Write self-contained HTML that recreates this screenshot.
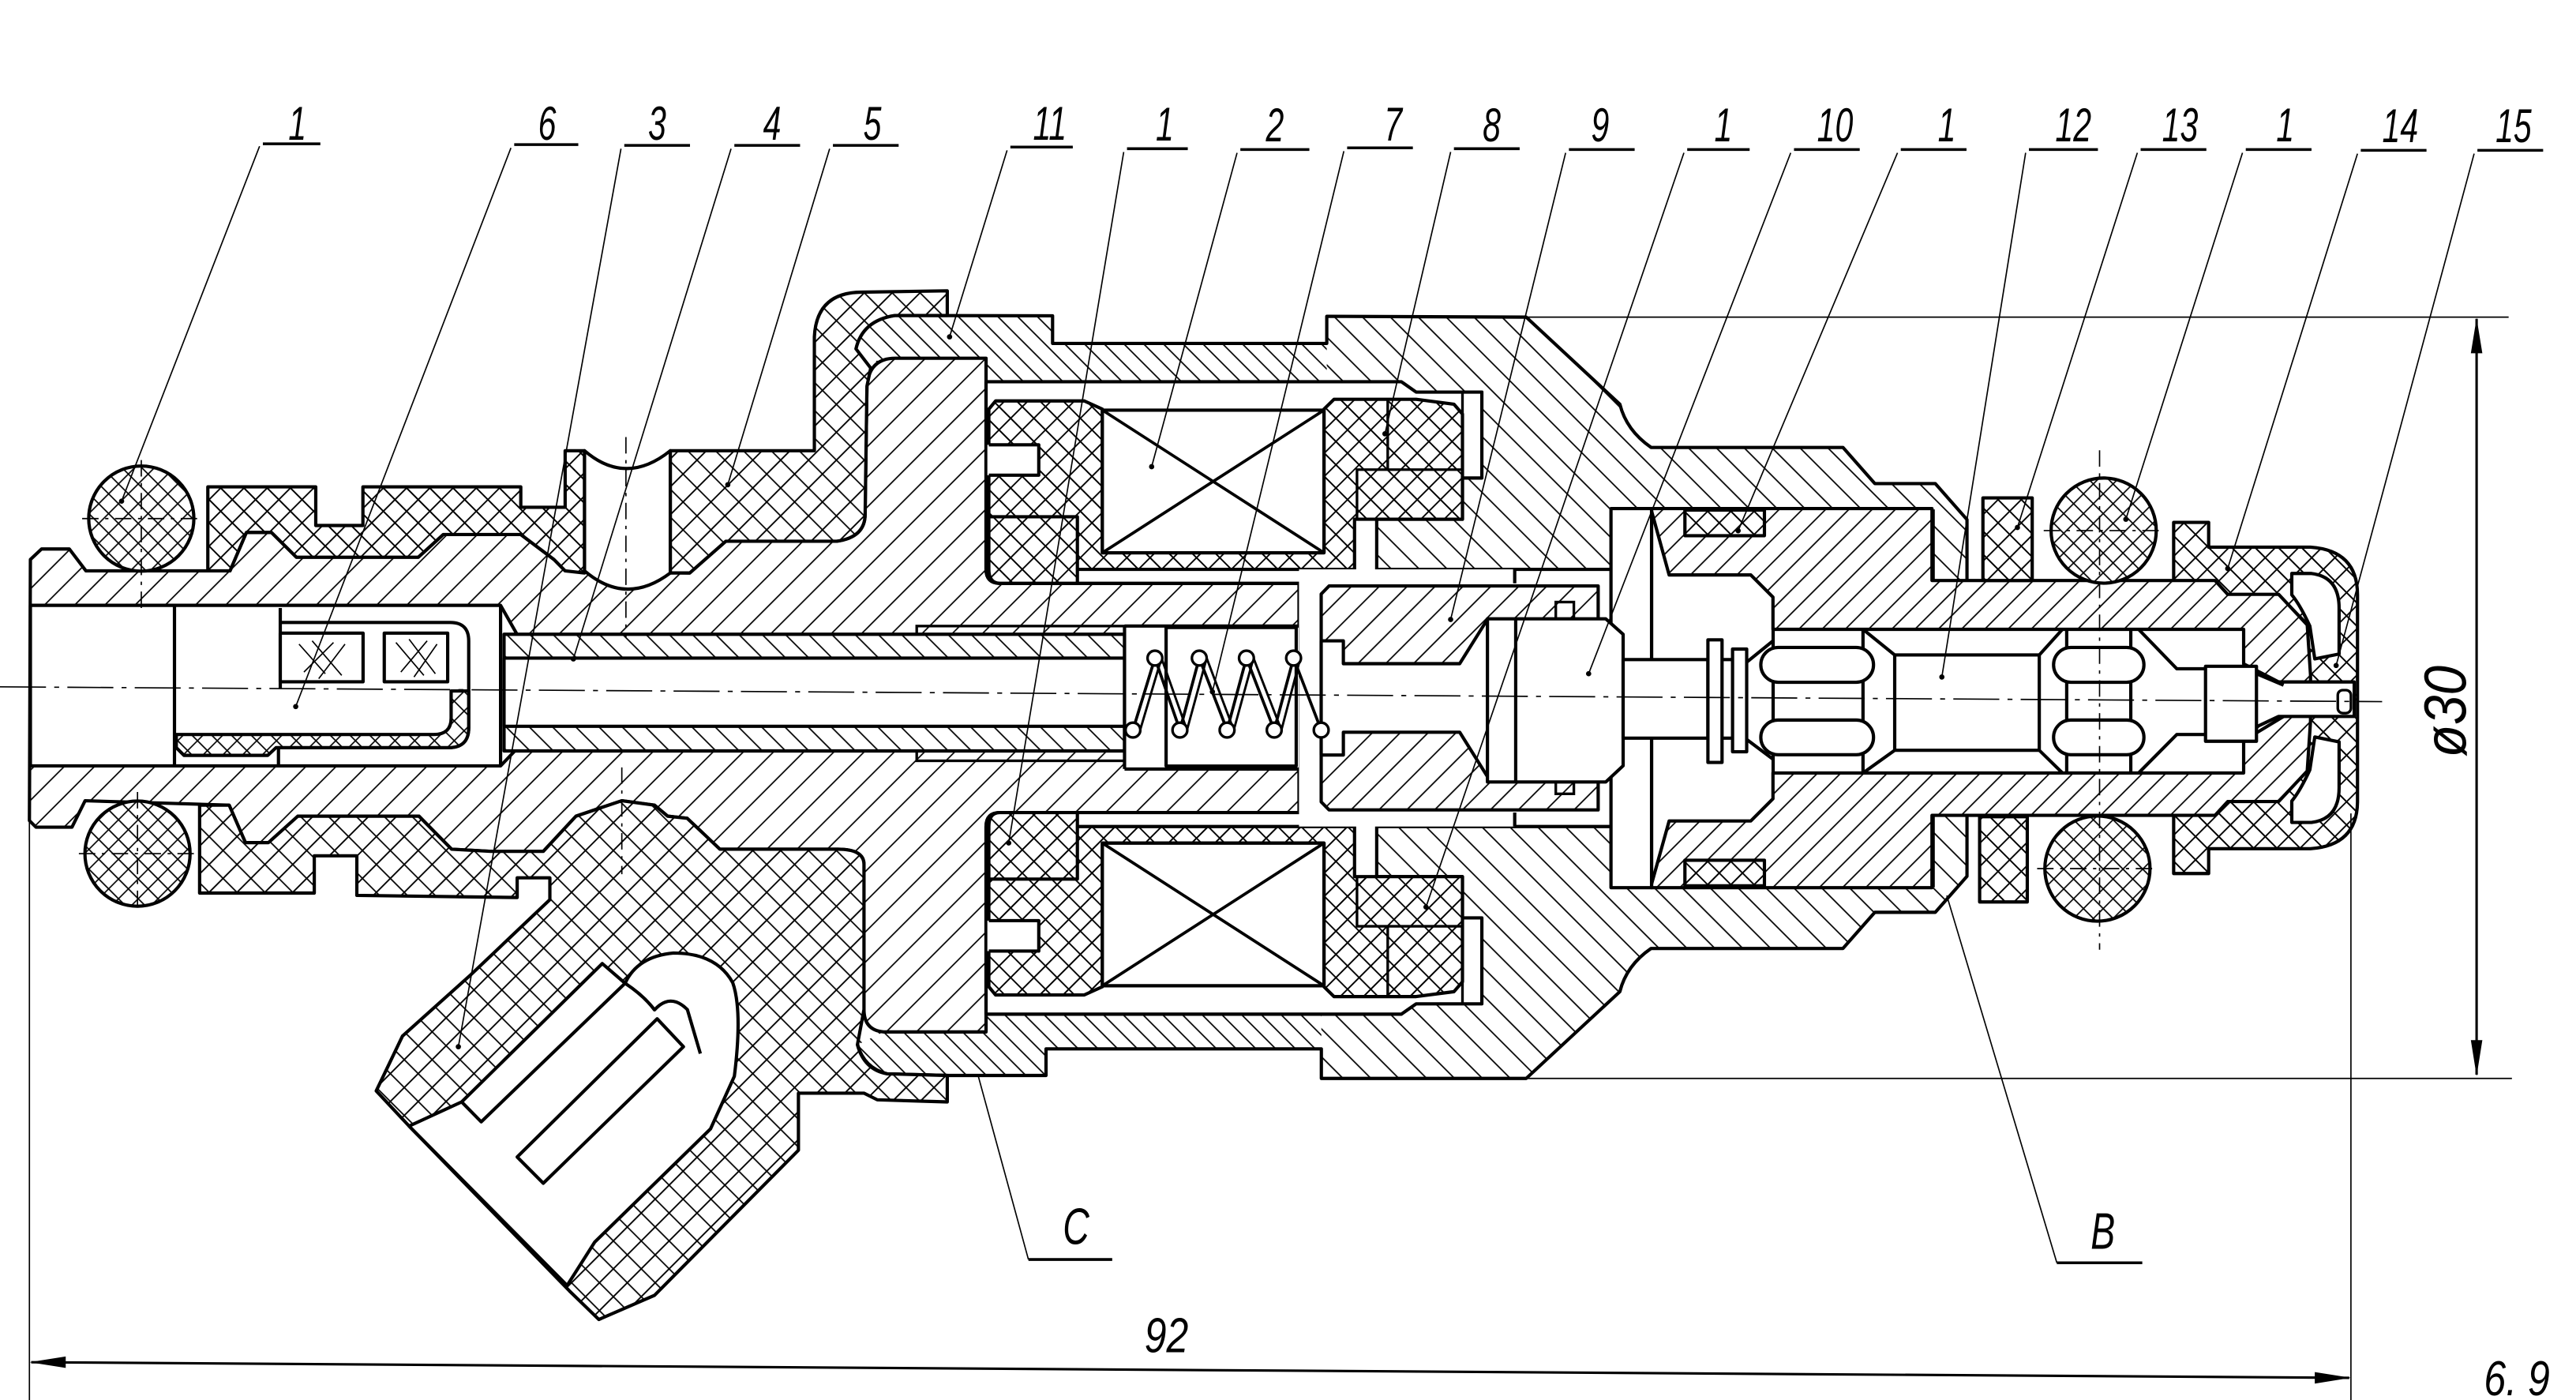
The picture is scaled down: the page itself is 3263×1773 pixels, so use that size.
<!DOCTYPE html>
<html><head><meta charset="utf-8">
<style>
html,body{margin:0;padding:0;background:#fff;}
svg{display:block;}
.t{font-family:"Liberation Sans",sans-serif;font-style:italic;fill:#000;}
.o{stroke:#000;stroke-width:2;stroke-linejoin:round;}
.m{stroke:#000;stroke-width:1.6;fill:none;}
.l{stroke:#000;stroke-width:0.8;fill:none;}
</style></head><body>
<svg xmlns="http://www.w3.org/2000/svg" xmlns:xlink="http://www.w3.org/1999/xlink" width="3263" height="1773" viewBox="0 0 1568 852">
<defs>
<pattern id="hs" width="13" height="13" patternUnits="userSpaceOnUse" patternTransform="rotate(-45)"><rect width="13" height="13" fill="#fff"/><line x1="0" y1="6.5" x2="13" y2="6.5" stroke="#000" stroke-width="0.85"/></pattern>
<pattern id="hr" width="12" height="12" patternUnits="userSpaceOnUse" patternTransform="rotate(45)"><rect width="12" height="12" fill="#fff"/><line x1="0" y1="6" x2="12" y2="6" stroke="#000" stroke-width="0.85"/></pattern>
<pattern id="hh" width="8.5" height="8.5" patternUnits="userSpaceOnUse" patternTransform="rotate(45)"><rect width="8.5" height="8.5" fill="#fff"/><line x1="0" y1="4.25" x2="8.5" y2="4.25" stroke="#000" stroke-width="0.8"/></pattern>
<pattern id="hn" width="10" height="10" patternUnits="userSpaceOnUse" patternTransform="rotate(-45)"><rect width="10" height="10" fill="#fff"/><line x1="0" y1="5" x2="10" y2="5" stroke="#000" stroke-width="0.85"/></pattern>
<pattern id="ha" width="12" height="12" patternUnits="userSpaceOnUse" patternTransform="rotate(-45)"><rect width="12" height="12" fill="#fff"/><line x1="0" y1="6" x2="12" y2="6" stroke="#000" stroke-width="0.85"/></pattern>
<pattern id="ht" width="10" height="10" patternUnits="userSpaceOnUse" patternTransform="rotate(45)"><rect width="10" height="10" fill="#fff"/><line x1="0" y1="5" x2="10" y2="5" stroke="#000" stroke-width="0.85"/></pattern>
<pattern id="hl" width="5" height="5" patternUnits="userSpaceOnUse" patternTransform="rotate(45)"><rect width="5" height="5" fill="#fff"/><line x1="0" y1="2.5" x2="5" y2="2.5" stroke="#000" stroke-width="0.8"/></pattern>
<pattern id="xp" width="12" height="12" patternUnits="userSpaceOnUse" patternTransform="rotate(45)"><rect width="12" height="12" fill="#fff"/><path d="M0 6H12M6 0V12" stroke="#000" stroke-width="0.9"/></pattern>
<pattern id="xs" width="10" height="10" patternUnits="userSpaceOnUse" patternTransform="rotate(45)"><rect width="10" height="10" fill="#fff"/><path d="M0 5H10M5 0V10" stroke="#000" stroke-width="0.9"/></pattern>
<pattern id="xo" width="8.5" height="8.5" patternUnits="userSpaceOnUse" patternTransform="rotate(45)"><rect width="8.5" height="8.5" fill="#fff"/><path d="M0 4.25H8.5M4.25 0V8.5" stroke="#000" stroke-width="0.8"/></pattern>

<path id="rp" d="M521,212.3 Q525,195 544.6,192 L640.7,192.2 L640.7,209 L807.6,209 L807.6,192.5 L929,193 L986,246 Q990,262 1005,272.3 L1121.8,272.3 L1141.2,294.3 L1178,294.3 L1197.3,316.2 L1197.3,533.3 L1178,555.2 L1141.2,555.2 L1121.8,577.2 L1005,577.2 Q990,587.5 986,603.5 L929,656.3 L804.3,656.3 L804.3,638.3 L636.7,638.3 L636.7,654.5 L576.6,654.5 L540,653.5 Q526,650 522,635.8 Z"/>

<g id="cu">
  <path class="o" fill="#fff" d="M600.2,232.3 L853,232.3 L862,238.6 L902,238.6 L902,290.9 L890.2,290.9 L890.2,316 L838,316 L838,346.5 L922,346.5 L922,355 L608.6,355 Q600.2,355 600.2,346.5 Z"/>
  <path class="o" fill="url(#xs)" d="M601.9,249 L606,244 L660,244 L671,249 L671,336.4 L805.9,336.4 L805.9,249 L812,243 L862,243 L885,246 L890.2,252 L890.2,316 L824.5,316 L824.5,346.5 L655.8,346.5 L655.8,355 L608.6,355 Q601.9,355 601.9,346.5 Z"/>
  <rect x="601" y="270.7" width="31.3" height="18.5" fill="#fff"/>
  <path class="o" fill="none" d="M601.9,270.7 L632.3,270.7 L632.3,289.2 L601.9,289.2"/>
  <path class="o" fill="none" d="M601.9,314.5 L655.8,314.5 L655.8,346.5"/>
  <rect class="o" x="671" y="249.6" width="134.9" height="86.8" fill="#fff"/>
  <path stroke="#000" stroke-width="1.8" d="M671,249.6 L805.9,336.4 M671,336.4 L805.9,249.6"/>
  <path class="m" d="M826,316 L826,285.8 L890.2,285.8 M844.7,243 L844.7,285.8"/>
  <rect class="m" x="890.2" y="238.6" width="11.8" height="52.3" fill="#fff"/>
</g>
<g id="ru">
  <rect class="o" x="1025.6" y="310.4" width="48.4" height="15.6" fill="url(#xs)"/>
  <path class="o" fill="#fff" d="M1395,349 L1407,349 Q1423.8,351 1423.8,370 L1423.8,398 L1409,401 L1406,381 Q1400,368 1395,362 Z"/>
  <rect class="m" x="947" y="366.4" width="11" height="14.6" fill="url(#hl)"/>
</g>
</defs>

<rect width="1568" height="852" fill="#fff"/>

<!-- body / housing (R) -->
<use href="#rp" xlink:href="#rp" fill="url(#hr)" stroke="none"/>
<path fill="url(#hh)" d="M521,212.3 Q525,195 544.6,192 L640.7,192.2 L640.7,209 L807.6,209 L807.6,232.3 L600.2,232.3 L600.2,218 L545,218 Q530,218 530,224 Z"/>
<path fill="url(#hh)" d="M522,635.8 Q526,650 540,653.5 L576.6,654.5 L636.7,654.5 L636.7,638.3 L804.3,638.3 L804.3,617 L600.2,617 L600.2,628 L537.8,628 Z"/>
<use href="#rp" xlink:href="#rp" fill="none" class="o"/>
<path class="m" d="M1176.9,310 L1176.9,353 M1176.9,497 L1176.9,540"/>

<!-- left body / stator / core (L) -->
<path class="o" fill="url(#hs)" d="M18.5,340.5 L25.3,334.1 L42.2,334.1 L52.3,347.4 L140,347.4 L150,324 L165.2,324 L180.4,339.1 L254.6,339.1 L269.8,325.3 L317,325.3 L337.2,340.5 L344,347.4 L419.8,348.7 L441.8,329.4 L509.2,329.4 Q526.6,327 526.6,312.9 L527.7,235 Q529,218 545,218 L600.2,218 L600.2,346.5 Q600.2,355 608.6,355 L790.7,355 L790.7,494.5 L608.6,494.5 Q600.2,494.5 600.2,503 L600.2,628 L537.8,628 Q525.9,627 525.9,614.4 L525.9,526.1 Q525.9,516.8 510,516.8 L438.2,516.8 L418.3,498 L406.4,496.7 L398.4,490 L378.5,487.3 L350.6,496.7 L330.7,518.1 L298.8,518.1 L274.9,516.8 L255,496.7 L181.3,496.7 L163.4,512.8 L149.4,512.8 L139.5,490 L51.8,487.3 L43.8,503.4 L21.9,503.4 L17.9,499.4 Z"/>

<!-- coil cavities -->
<use href="#cu" xlink:href="#cu"/>
<use href="#cu" xlink:href="#cu" transform="matrix(1 0 0 -1 0 849.5)"/>

<!-- armature cavity -->
<rect x="790.7" y="346.5" width="190" height="156.5" fill="#fff"/>
<path class="o" d="M922,346.5 L980.6,346.5 M922,503 L980.6,503 M922,346.5 L922,355 M922,494.5 L922,503"/>
<path class="o" fill="url(#ha)" d="M809,356.6 L972.8,356.6 L972.8,492.9 L809,492.9 L804.2,488 L804.2,361.5 Z"/>
<path class="o" fill="#fff" d="M804.2,390 L817.7,390 L817.7,403.9 L888.5,403.9 L905.4,376.9 L975,376.9 L975,472.6 L905.4,472.6 L888.5,445.6 L817.7,445.6 L817.7,459.5 L804.2,459.5 Z"/>

<!-- cap -->
<path class="o" fill="url(#xs)" d="M1323.1,317.9 L1344.4,317.9 L1344.4,333 L1406.4,333 Q1435,335 1435,362 L1435,487.5 Q1435,514.5 1406.4,516.5 L1344.4,516.5 L1344.4,531.6 L1323.1,531.6 Z"/>

<!-- valve seat / nozzle body (V) -->
<path class="o" fill="url(#hn)" d="M1005.3,309.5 L1176,309.5 L1176,353.3 L1348.3,353.3 L1356,361.7 L1387,361.7 L1404.4,380.3 L1406.4,410.6 L1406.4,439 L1404.4,469.2 L1387,487.8 L1356,487.8 L1348.3,496.2 L1176,496.2 L1176,540.2 L1005.3,540.2 Z"/>
<path class="o" fill="#fff" d="M1005.3,311 L1016,349.9 L1065.7,349.9 L1079.2,363.4 L1079.2,383 L1365.7,383 L1365.7,404 L1387,415 L1433,415 L1433,436 L1387,436 L1365.7,446 L1365.7,470.4 L1079.2,470.4 L1079.2,486.1 L1065.7,499.6 L1016,499.6 L1005.3,538 Z"/>
<use href="#ru" xlink:href="#ru"/>
<use href="#ru" xlink:href="#ru" transform="matrix(1 0 0 -1 0 849.5)"/>

<!-- disc & valve 10 -->
<rect class="o" x="980.6" y="309.5" width="24.7" height="230.7" fill="#fff"/>
<path class="o" fill="#fff" d="M905.4,376.6 L977.4,376.6 L988,386 L988,466 L977.4,475.9 L905.4,475.9 Z"/>
<path class="o" d="M922.6,376.6 L922.6,475.9"/>
<path class="m" d="M1005.3,311 L1005.3,401 M1005.3,538 L1005.3,449"/>

<!-- stem -->
<rect class="o" x="988" y="401.4" width="51.6" height="47.8" fill="#fff"/>
<rect class="o" x="1039.6" y="389.4" width="8.6" height="74.6" fill="#fff"/>
<rect class="o" x="1054.6" y="395" width="8.6" height="62.5" fill="#fff"/>
<path class="o" d="M1048.2,401.4 L1054.6,401.4 M1048.2,449.2 L1054.6,449.2 M1063.2,403 L1079.2,390 M1063.2,450 L1079.2,462"/>

<!-- nozzle internals -->
<path class="o" d="M1079.3,383 L1079.3,470.4 M1134,383 L1134,470.4"/>
<rect class="o" x="1071.8" y="394" width="68.6" height="21.2" rx="10.6" fill="#fff"/>
<rect class="o" x="1071.8" y="438.2" width="68.6" height="21.1" rx="10.5" fill="#fff"/>
<path class="o" fill="none" d="M1134,383 L1153.3,398.6 L1241.3,398.6 L1255.4,383 M1134,470.4 L1153.3,456.6 L1241.3,456.6 L1255.4,470.4 M1153.3,398.6 L1153.3,456.6 M1241.3,398.6 L1241.3,456.6"/>
<path class="o" d="M1258,383 L1258,470.4 M1297,383 L1297,470.4"/>
<rect class="o" x="1250" y="394" width="55" height="21.2" rx="10.6" fill="#fff"/>
<rect class="o" x="1250" y="438.2" width="55" height="21.1" rx="10.5" fill="#fff"/>
<path class="o" fill="none" d="M1301.8,383 L1325,407 L1342.5,407 M1301.8,470.4 L1325,447 L1342.5,447"/>
<rect class="o" x="1342.5" y="405.5" width="31" height="45.6" fill="#fff"/>
<path class="o" d="M1373.5,410 L1390,417 M1373.5,446 L1390,436"/>
<rect class="m" x="1423" y="420" width="8" height="14" rx="3" fill="#fff"/>

<!-- ring 13, O-rings right -->
<rect class="o" x="1207" y="303" width="30" height="50.3" fill="url(#xs)"/>
<rect class="o" x="1205" y="497" width="29" height="51.9" fill="url(#xs)"/>
<circle class="o" cx="1280.5" cy="322.9" r="32" fill="url(#xo)"/>
<circle class="o" cx="1276.7" cy="528.6" r="32" fill="url(#xo)"/>

<!-- left bore & filter -->
<path class="o" fill="#fff" d="M18.5,368.4 L304.7,368.4 L314.3,385.3 L314.3,456 L304.7,466.1 L18.5,466.1 Z"/>
<path class="o" d="M106.2,368.4 L106.2,466.1 M304.7,368.4 L304.7,466.1 M170.6,370 L170.6,419"/>
<path class="o" fill="none" d="M170.6,378.8 L274,378.8 Q285.3,378.8 285.3,390 L285.3,443 Q285.3,455 273,455 L107.3,455"/>
<path class="o" fill="url(#xo)" d="M274.6,420.5 L285.3,420.5 L285.3,443 Q285.3,455 273,455 L168,455 L163,459.7 L112,459.7 L107.3,455 L107.3,447 L264,447 Q274.6,447 274.6,437 Z"/>
<path class="o" d="M169.5,455 L169.5,466.1"/>
<rect class="o" x="170.6" y="385.3" width="50.4" height="29.6" fill="#fff"/>
<rect class="o" x="233.9" y="385.3" width="38.6" height="29.6" fill="#fff"/>
<path class="l" stroke-width="1" d="M182,392 L198,410 M190,390 L208,411 M185,409 L203,391 M194,413 L210,392 M241,391 L258,411 M249,389 L265,410 M244,409 L260,390 M252,412 L266,392"/>

<!-- tube & sleeve -->
<rect class="o" x="306.8" y="386" width="377.7" height="71" fill="url(#ht)"/>
<rect class="o" x="306.8" y="400.5" width="377.7" height="41.5" fill="#fff"/>
<rect class="m" x="558" y="381" width="126.5" height="5" fill="url(#hl)"/>
<rect class="m" x="558" y="457" width="126.5" height="6" fill="url(#hl)"/>

<!-- spring chamber -->
<rect x="684.5" y="381" width="106" height="87" fill="#fff"/>
<path class="o" d="M684.5,381 L790.7,381 M684.5,468 L790.7,468 M684.5,381 L684.5,468"/>
<rect class="o" x="709.8" y="381.9" width="79.2" height="84.3" fill="#fff"/>
<polyline fill="none" stroke="#000" stroke-width="1.8" points="689.6,444.3 703,400.5 718.2,444.3 730,400.5 746.9,444.3 758.7,400.5 775.6,444.3 787.4,400.5 804.2,444.3"/>
<polyline fill="none" stroke="#000" stroke-width="1.4" points="694,444.3 707,400.5 722.5,444.3 734.5,400.5 751,444.3 763,400.5 780,444.3 791.5,400.5"/>
<g fill="#fff" stroke="#000" stroke-width="1.6">
<circle cx="703" cy="400.5" r="4.5"/><circle cx="730" cy="400.5" r="4.5"/><circle cx="758.7" cy="400.5" r="4.5"/><circle cx="787.4" cy="400.5" r="4.5"/>
<circle cx="689.6" cy="444.3" r="4.5"/><circle cx="718.2" cy="444.3" r="4.5"/><circle cx="746.9" cy="444.3" r="4.5"/><circle cx="775.6" cy="444.3" r="4.5"/><circle cx="804.2" cy="444.3" r="4.5"/>
</g>

<!-- left O-rings -->
<circle class="o" cx="86" cy="315.6" r="32" fill="url(#xo)"/>
<circle class="o" cx="83.7" cy="519.5" r="32" fill="url(#xo)"/>

<!-- upper seal -->
<path class="o" fill="url(#xs)" d="M126.5,296.3 L192.2,296.3 L192.2,319.8 L220.9,319.8 L220.9,296.3 L317,296.3 L317,308.7 L344,308.7 L344,274.3 L355.8,274.3 L355.8,348.7 L344,347.4 L337.2,340.5 L317,325.3 L269.8,325.3 L254.6,339.1 L180.4,339.1 L165.2,324 L150,324 L140,347.4 L126.5,347.4 Z"/>
<!-- upper plastic 5 -->
<path class="o" fill="url(#xp)" d="M408,274.3 L495.7,274.3 L495.7,205 Q497,178 524.3,177.8 L576.6,177 L576.6,192 L544.6,192 Q525,195 521,212.3 L530,224 L527.7,235 L526.6,312.9 Q526.6,327 509.2,329.4 L441.8,329.4 L419.8,348.7 L408,348.7 Z"/>
<path class="o" fill="#fff" d="M355.8,274.3 Q381,296 408,274.3 L408,348.7 Q381,369 355.8,347.4 Z"/>

<!-- lower plug -->
<path class="o" fill="url(#xp)" d="M330.7,518.1 L350.6,496.7 L378.5,487.3 L398.4,490 L406.4,496.7 L418.3,498 L438.2,516.8 L510,516.8 Q525.9,516.8 525.9,526.1 L525.9,614.4 L521.9,635.8 Q526,651 540,653.5 L576.6,654.5 L576.6,670.6 L534,669.3 L526,665.3 L486,665.3 L486,700 L398.4,788.3 L364.5,803 L346.6,785.6 L249,685.3 L229,663.9 L245,630.5 L286.8,593 L334.7,547.5 L334.7,534.2 L314.8,534.2 L314.8,546.2 L217.2,544.9 L217.2,520.8 L191.3,520.8 L191.3,543.5 L121.5,543.5 L121.5,490 L139.5,490 L149.4,512.8 L163.4,512.8 L181.3,496.7 L255,496.7 L274.9,516.8 L298.8,518.1 Z"/>
<path class="o" fill="#fff" d="M249,685.3 L281,670.6 L366.6,586.4 L380.5,598.4 Q388,582 410,580 Q436,580 446,598 Q452,615 447,655 L432.5,687 L362,755.9 L345.2,782.3 Z"/>
<path class="o" fill="none" d="M281,670.6 L292.9,682.7 L380.5,598.4 Q392,606 398.4,614.6 Q408,604 418.4,614.4 L426.3,641.2"/>
<path class="o" fill="#fff" d="M314.8,704.1 L400,620 L416,637 L330.7,720.1 Z"/>

<!-- centre lines -->
<path class="l" stroke-width="0.7" stroke-dasharray="28 5 3 5" d="M0,418 L1450,427"/>
<path class="l" stroke-width="0.6" stroke-dasharray="10 4 2 4" d="M86,280 L86,372 M50,315.6 L122,315.6 M83.7,482 L83.7,556 M48,519.5 L120,519.5 M381,266 L381,388 M378.5,467 L378.5,532 M1278,274 L1278,578 M1244,322.9 L1316,322.9 M1240,528.6 L1312,528.6"/>

<!-- dimension & extension lines -->
<path class="l" stroke-width="1" d="M929,193 L1527,193 M924,656.3 L1529,656.3 M17.9,499 L17.9,852 M1431,495 L1431,852"/>
<path stroke="#000" stroke-width="1.5" d="M19,829 L1430,838.5 M1507.5,194 L1507.5,654"/>
<path fill="#000" d="M17.9,829 L40,825.5 L40,832.5 Z M1431,838.5 L1409,835 L1409,842 Z M1507.5,193.5 L1504,215 L1511,215 Z M1507.5,655 L1504,633 L1511,633 Z"/>

<!-- leaders -->
<g stroke="#000" stroke-width="0.8" fill="none">
<path d="M158,89 L74,305"/><path d="M311,90 L180,430"/><path d="M378,90.5 L279,637"/><path d="M445,90.5 L349,401"/><path d="M505,90.5 L443,295"/>
<path d="M613,91.5 L578,205"/><path d="M684,92.5 L614,513"/><path d="M753,93 L701,284"/><path d="M818,92 L738,421"/><path d="M883,92.5 L843,264"/>
<path d="M953,93 L883,377"/><path d="M1025,93 L868,552"/><path d="M1090,93 L967,410"/><path d="M1155,93 L1058,323"/><path d="M1233,93 L1182,412"/>
<path d="M1301,93 L1228,321"/><path d="M1365,93 L1294,316"/><path d="M1435,93.5 L1356,346"/><path d="M1506,93.5 L1422,405"/>
<path d="M626,766.5 L595.5,655"/><path d="M1252,768.5 L1185,545"/>
</g>
<g stroke="#000" stroke-width="1.7">
<path d="M160,87.5 L195,87.5"/><path d="M313,88 L352,88"/><path d="M380,88.5 L420,88.5"/><path d="M447,88.5 L487,88.5"/><path d="M507,88.5 L547,88.5"/>
<path d="M615,89.5 L653,89.5"/><path d="M686,90.5 L723,90.5"/><path d="M755,91 L797,91"/><path d="M820,90 L860,90"/><path d="M885,90.5 L925,90.5"/>
<path d="M955,91 L995,91"/><path d="M1027,91 L1065,91"/><path d="M1092,91 L1132,91"/><path d="M1157,91 L1197,91"/><path d="M1235,91 L1277,91"/>
<path d="M1303,91 L1343,91"/><path d="M1367,91 L1407,91"/><path d="M1437,91.5 L1477,91.5"/><path d="M1508,91.5 L1548,91.5"/>
<path d="M626,766.5 L677,766.5"/><path d="M1252,768.5 L1304,768.5"/>
</g>
<g fill="#000">
<circle cx="74" cy="305" r="1.6"/><circle cx="180" cy="430" r="1.6"/><circle cx="279" cy="637" r="1.6"/><circle cx="349" cy="401" r="1.6"/><circle cx="443" cy="295" r="1.6"/>
<circle cx="578" cy="205" r="1.6"/><circle cx="614" cy="513" r="1.6"/><circle cx="701" cy="284" r="1.6"/><circle cx="738" cy="421" r="1.6"/><circle cx="843" cy="264" r="1.6"/>
<circle cx="883" cy="377" r="1.6"/><circle cx="868" cy="552" r="1.6"/><circle cx="967" cy="410" r="1.6"/><circle cx="1058" cy="323" r="1.6"/><circle cx="1182" cy="412" r="1.6"/>
<circle cx="1228" cy="321" r="1.6"/><circle cx="1294" cy="316" r="1.6"/><circle cx="1356" cy="346" r="1.6"/><circle cx="1422" cy="405" r="1.6"/>
</g>

<!-- labels -->
<g class="t" font-size="29" text-anchor="middle">
<text transform="translate(181,85) scale(0.68,1)">1</text>
<text transform="translate(333,85) scale(0.68,1)">6</text>
<text transform="translate(400,85) scale(0.68,1)">3</text>
<text transform="translate(470,85) scale(0.68,1)">4</text>
<text transform="translate(531,85) scale(0.68,1)">5</text>
<text transform="translate(639,85) scale(0.68,1)">11</text>
<text transform="translate(709,85.5) scale(0.68,1)">1</text>
<text transform="translate(776,86) scale(0.68,1)">2</text>
<text transform="translate(848,85.5) scale(0.68,1)">7</text>
<text transform="translate(908,86) scale(0.68,1)">8</text>
<text transform="translate(974,86) scale(0.68,1)">9</text>
<text transform="translate(1049,86) scale(0.68,1)">1</text>
<text transform="translate(1117,86) scale(0.68,1)">10</text>
<text transform="translate(1185,86) scale(0.68,1)">1</text>
<text transform="translate(1262,86) scale(0.68,1)">12</text>
<text transform="translate(1327,86) scale(0.68,1)">13</text>
<text transform="translate(1391,86) scale(0.68,1)">1</text>
<text transform="translate(1461,86.5) scale(0.68,1)">14</text>
<text transform="translate(1530,86.5) scale(0.68,1)">15</text>
</g>
<g class="t" text-anchor="middle">
<text font-size="31" transform="translate(655,757) scale(0.72,1)">C</text>
<text font-size="31" transform="translate(1280,760) scale(0.72,1)">B</text>
<text font-size="30" transform="translate(710,823) scale(0.8,1)">92</text>
<text font-size="36" transform="translate(1501,433) rotate(-90) scale(0.9,1)">ø30</text>
<text font-size="30" transform="translate(1532,849) scale(0.8,1)">6. 9</text>
</g>
</svg>
</body></html>
